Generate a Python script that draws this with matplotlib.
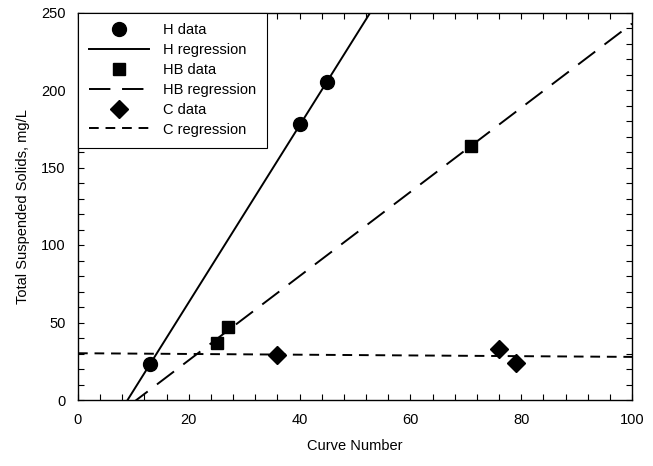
import numpy as np
import matplotlib.pyplot as plt
from matplotlib.ticker import MultipleLocator

plt.rcParams['font.family'] = ['Liberation Sans', 'DejaVu Sans']

# data
h_x = [13, 40, 45]
h_y = [23, 178, 205]
hb_x = [25, 27, 71]
hb_y = [37, 47, 164]
c_x = [36, 76, 79]
c_y = [29, 33, 24]

fig = plt.figure(figsize=(6.53, 4.66), dpi=100)
ax = fig.add_axes([78/653, 1-400/466, (632-78)/653, (400-12.5)/466])

xl = np.array([0, 100])

# least squares fits
ph = np.polyfit(h_x, h_y, 1)
phb = np.polyfit(hb_x, hb_y, 1)
pc = np.polyfit(c_x, c_y, 1)

ax.plot(h_x, h_y, 'o', color='black', ms=10, label='H data')
ax.plot(xl, np.polyval(ph, xl), '-', color='black', lw=1.4, label='H regression')
ax.plot(hb_x, hb_y, 's', color='black', ms=8.5, label='HB data')
ax.plot(xl, np.polyval(phb, xl), color='black', lw=1.4, dashes=(11, 6), label='HB regression')
ax.plot(c_x, c_y, 'D', color='black', ms=9, label='C data')
ax.plot(xl, np.polyval(pc, xl), color='black', lw=1.4, dashes=(5, 3.5), label='C regression')

ax.set_xlim(0, 100)
ax.set_ylim(0, 250)
ax.xaxis.set_major_locator(MultipleLocator(20))
ax.xaxis.set_minor_locator(MultipleLocator(4))
ax.yaxis.set_major_locator(MultipleLocator(50))
ax.yaxis.set_minor_locator(MultipleLocator(10))
ax.tick_params(which='both', direction='in', top=True, right=True, labelsize=10.5, width=0.8, length=4)
ax.tick_params(which='major', pad=9)
for s in ax.spines.values():
    s.set_linewidth(1.0)

ax.set_xlabel('Curve Number', fontsize=10.5, labelpad=9)
ax.set_ylabel('Total Suspended Solids, mg/L', fontsize=10.5, labelpad=8)

leg = ax.legend(loc='upper left', borderaxespad=0, fancybox=False, framealpha=1,
                edgecolor='black', fontsize=10.5, handlelength=4.1, labelspacing=0.4,
                borderpad=0.75, handletextpad=0.95)
leg.get_frame().set_linewidth(0.8)

fig.savefig('out.png', dpi=100)
